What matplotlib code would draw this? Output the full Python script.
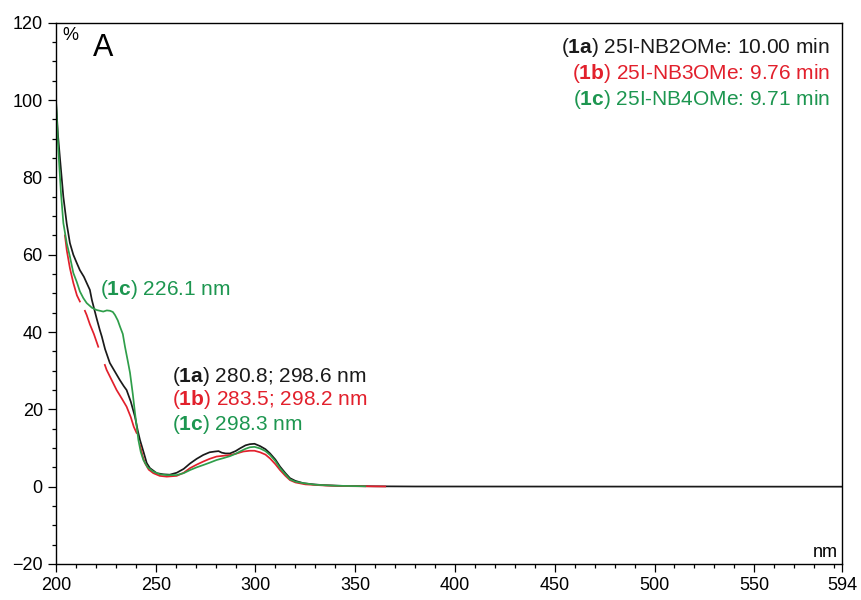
import numpy as np
import matplotlib
matplotlib.use("Agg")
import matplotlib.pyplot as plt

plt.rcParams["font.family"] = ["Liberation Sans", "DejaVu Sans"]
plt.rcParams["mathtext.fontset"] = "custom"
plt.rcParams["mathtext.rm"] = "Liberation Sans"
plt.rcParams["mathtext.bf"] = "Liberation Sans:bold"

# UV spectra (wavelength nm, absorbance %)
wl_1a = [200, 201, 202, 203.7, 205.4, 207, 208.7, 210.4, 212, 214, 215.4, 217, 218, 220.4,
         222, 223, 224.6, 227, 229.5, 232, 234, 235.4, 237.5, 239.6, 241, 242.1, 244, 245.5,
         247.1, 250.5, 253.8, 257, 260.5, 264, 267.2, 270.5, 273.8, 277, 279.7, 281.5, 283.1,
         285, 287.2, 290, 292.2, 295, 297.2, 299.5, 302.3, 305, 307.3, 310, 312.3, 315, 317.3,
         320, 324, 329, 334, 344, 360, 380, 594]
abs_1a = [100, 91, 85, 75, 68, 63, 60, 57.9, 56, 54.3, 52.7, 50.9, 48.3, 43.5,
          40.5, 38.8, 35.6, 32, 29.8, 27.6, 26, 25, 22, 18.1, 14.5, 12.1, 8.8, 6.1,
          4.8, 3.5, 3.2, 3.1, 3.6, 4.6, 6.0, 7.2, 8.2, 8.9, 9.1, 9.2, 8.8,
          8.6, 8.6, 9.2, 9.9, 10.7, 11.0, 11.1, 10.5, 9.7, 8.6, 7.0, 5.2, 3.5, 2.2,
          1.5, 0.9, 0.6, 0.4, 0.2, 0.1, 0.05, 0]

# red trace shows gaps in the original, kept as NaN breaks
wl_1b = [204.5, 205.4, 207, 208.7, 210.5, 212, 213.5,
         214.5, 215.4, 217, 219, 221.2, 223,
         224.5, 225.4, 228, 230.4, 233, 235.4, 237.5, 239, 240.4, 241.2,
         242.1, 243.5, 244.6, 246.5, 248.8, 252, 255.5, 260.5, 264, 267.2, 270.5, 273.8,
         277, 280.5, 284, 287.2, 290, 293.9, 297.2, 299.5, 302.3, 305, 307.3, 310, 312.3,
         315, 317.3, 320, 325, 335, 345, 365]
abs_1b = [65, 61.2, 56.5, 52.7, 49.5, 47.9, np.nan,
          45.5, 44.4, 42.0, 39.5, 36.2, np.nan,
          31.5, 30.2, 27.5, 25, 22.8, 20.7, 18, 15.5, 13.9, np.nan,
          10.8, 7.8, 6.1, 4.4, 3.5, 2.8, 2.6, 2.8, 3.6, 4.8, 5.7, 6.5,
          7.2, 7.8, 8.0, 8.2, 8.5, 9.1, 9.3, 9.3, 8.9, 8.3, 7.3, 5.8, 4.3,
          2.8, 1.7, 1.1, 0.6, 0.3, 0.15, 0.05]

wl_1c = [200, 201.2, 202.5, 203.7, 205.4, 207, 208.7, 210.4, 212, 213.7, 215.4, 218, 220.4,
         223.7, 225.5, 227.1, 228.5, 229.6, 231, 232.1, 233.5, 234.6, 236, 237.1, 238.5,
         239.6, 241.3, 242.5, 243.8, 246, 248.8, 252, 255.5, 260.5, 264, 267.2, 270.5,
         273.8, 277, 280.5, 284, 287.2, 290, 292.2, 295, 297.2, 299.5, 302.3, 305, 307.3,
         310, 312.3, 315, 317.3, 320, 324, 330, 340, 355]
abs_1c = [100, 87, 76, 68.2, 63, 59.5, 55.3, 53, 50.5, 48.8, 47.5, 46.3, 45.7,
          45.3, 45.6, 45.5, 45.2, 44.4, 43, 41.4, 39.5, 36.2, 32.5, 29.5, 24,
          19.1, 12.1, 9.0, 6.9, 5.0, 3.9, 3.2, 3.0, 3.0, 3.5, 4.3, 5.0,
          5.6, 6.2, 6.9, 7.4, 7.9, 8.5, 9.1, 9.8, 10.2, 10.3, 9.9, 9.2, 8.2,
          6.6, 4.8, 3.2, 1.9, 1.3, 0.9, 0.5, 0.25, 0.1]

x_ticks = [200, 250, 300, 350, 400, 450, 500, 550, 594]
y_ticks = [-20, 0, 20, 40, 60, 80, 100, 120]

c_black = "#1a1a1a"
c_red = "#e2202c"
c_green = "#2f9e4a"
t_green = "#1d9650"

fig = plt.figure(figsize=(8.61, 6.0), dpi=100)
ax = fig.add_axes([0.065, 0.06, 0.913, 0.902])

ax.plot(wl_1a, abs_1a, color=c_black, lw=1.25)
ax.plot(wl_1b, abs_1b, color=c_red, lw=1.25)
ax.plot(wl_1c, abs_1c, color=c_green, lw=1.25)

ax.set_xlim(200, 594)
ax.set_ylim(-20, 120)
ax.set_xticks(x_ticks)
ax.set_xticks(np.arange(210, 594, 10), minor=True)
ax.set_yticks(y_ticks)
ax.set_yticks(np.arange(-20, 121, 5), minor=True)
ax.tick_params(which="major", direction="out", length=6, width=0.9, labelsize=13, pad=3.5)
ax.tick_params(which="minor", direction="out", length=3, width=0.9)
for s in ax.spines.values():
    s.set_linewidth(1.0)

ax.text(203, 116.8, "%", fontsize=13, ha="left", va="center")
ax.text(218.5, 113.5, "A", fontsize=22, ha="left", va="center")
ax.text(592, -17, "nm", fontsize=13, ha="right", va="center")

# retention times, top right
fs = 15
ax.text(588, 113.7, r"($\mathbf{1a}$) 25I-NB2OMe: 10.00 min", color=c_black,
        fontsize=fs, ha="right", va="center")
ax.text(588, 107.0, r"($\mathbf{1b}$) 25I-NB3OMe: 9.76 min", color=c_red,
        fontsize=fs, ha="right", va="center")
ax.text(588, 100.2, r"($\mathbf{1c}$) 25I-NB4OMe: 9.71 min", color=t_green,
        fontsize=fs, ha="right", va="center")

# band maxima
ax.text(222, 50.9, r"($\mathbf{1c}$) 226.1 nm", color=t_green, fontsize=fs, ha="left", va="center")
ax.text(258, 28.6, r"($\mathbf{1a}$) 280.8; 298.6 nm", color=c_black, fontsize=fs, ha="left", va="center")
ax.text(258, 22.5, r"($\mathbf{1b}$) 283.5; 298.2 nm", color=c_red, fontsize=fs, ha="left", va="center")
ax.text(258, 16.2, r"($\mathbf{1c}$) 298.3 nm", color=t_green, fontsize=fs, ha="left", va="center")

fig.savefig("out.png", dpi=100)
plt.close(fig)
